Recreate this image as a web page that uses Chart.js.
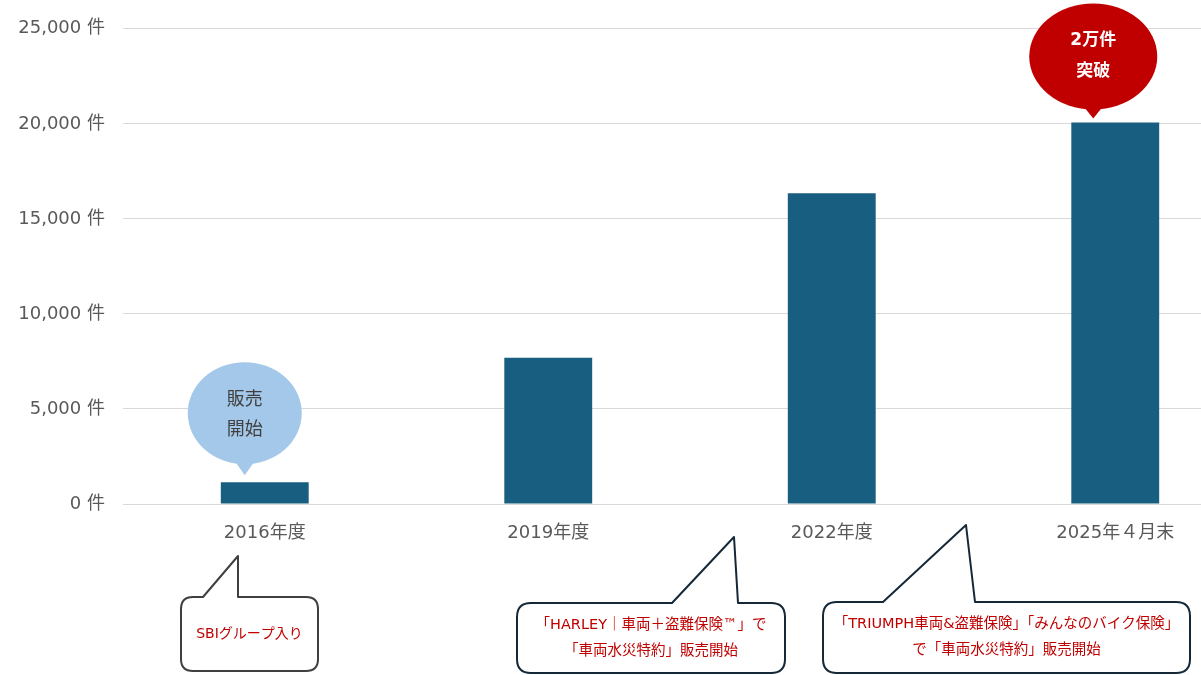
<!DOCTYPE html>
<html lang="ja">
<head>
<meta charset="utf-8">
<script src="https://cdn.jsdelivr.net/npm/chart.js@4"></script>
<style>
    html, body { margin: 0; padding: 0; background: #fff; overflow: hidden; }
    #wrap { position: relative; width: 1260px; height: 675px; }
</style>
</head>
<body>
<div id="wrap"><canvas id="chart-contracts"></canvas></div>
<script>
// 契約件数の推移
const categories = ['2016年度', '2019年度', '2022年度', '2025年４月末'];
const contracts = [1150, 7700, 16350, 20070];
const yTickStep = 5000;
const yMax = 25000;

const bubbleTexts = [['販売', '開始'], ['2万件', '突破']];
const calloutTexts = [
    ['SBIグループ入り'],
    ['「HARLEY｜車両＋盗難保険™」で', '「車両水災特約」販売開始'],
    ['「TRIUMPH車両&盗難保険」「みんなのバイク保険」', 'で「車両水災特約」販売開始'],
];

const FONT = '"DejaVu Sans", "Noto Sans CJK JP", sans-serif';
const BAR = '#185e80';
const RED = '#c00000';

// box with a tail going up to a tip
function calloutPath(ctx, c) {
    const { x, y, w, h, r, tailL, tailR, tipX, tipY } = c;
    ctx.beginPath();
    ctx.moveTo(x + r, y);
    ctx.lineTo(tailL, y);
    ctx.lineTo(tipX, tipY);
    ctx.lineTo(tailR, y);
    ctx.lineTo(x + w - r, y);
    ctx.quadraticCurveTo(x + w, y, x + w, y + r);
    ctx.lineTo(x + w, y + h - r);
    ctx.quadraticCurveTo(x + w, y + h, x + w - r, y + h);
    ctx.lineTo(x + r, y + h);
    ctx.quadraticCurveTo(x, y + h, x, y + h - r);
    ctx.lineTo(x, y + r);
    ctx.quadraticCurveTo(x, y, x + r, y);
    ctx.closePath();
}

function drawBubble(ctx, cx, cy, rx, ry, tipY, fill) {
    ctx.save();
    ctx.fillStyle = fill;
    ctx.beginPath();
    ctx.ellipse(cx, cy, rx, ry, 0, 0, Math.PI * 2);
    ctx.fill();
    ctx.beginPath();
    ctx.moveTo(cx - 12, cy + ry - 6);
    ctx.lineTo(cx, tipY);
    ctx.lineTo(cx + 12, cy + ry - 6);
    ctx.closePath();
    ctx.fill();
    ctx.restore();
}

const annotations = {
    id: 'annotations',
    afterDraw(chart) {
        const ctx = chart.ctx;
        const xs = chart.scales.x;
        const ys = chart.scales.y;

        // 販売開始 bubble over the first bar
        const b0x = xs.getPixelForValue(0) - 20;
        const b0top = ys.getPixelForValue(contracts[0]);
        drawBubble(ctx, b0x, b0top - 69, 57, 51, b0top - 7, '#a4c8e9');
        // 2万件突破 bubble over the last bar
        const b3x = xs.getPixelForValue(3) - 22;
        const b3top = ys.getPixelForValue(contracts[3]);
        drawBubble(ctx, b3x, b3top - 66, 64, 53, b3top - 4, RED);

        ctx.save();
        ctx.textAlign = 'center';
        ctx.textBaseline = 'middle';
        ctx.font = '18px ' + FONT;
        ctx.fillStyle = '#404040';
        bubbleTexts[0].forEach((t, i) => ctx.fillText(t, b0x, b0top - 82 + i * 30));
        ctx.font = 'bold 17px ' + FONT;
        ctx.fillStyle = '#ffffff';
        bubbleTexts[1].forEach((t, i) => ctx.fillText(t, b3x, b3top - 82 + i * 31));
        ctx.restore();

        // callouts under the axis
        const boxes = [
            { x: 181, y: 597, w: 137, h: 74, r: 12, tailL: 203, tailR: 238, tipX: 238, tipY: 556, stroke: '#3f3f3f', lh: 26, size: 14 },
            { x: 517, y: 603, w: 268, h: 70, r: 14, tailL: 672, tailR: 738, tipX: 734, tipY: 537, stroke: '#142838', lh: 26, size: 14.5 },
            { x: 823, y: 602, w: 367, h: 71, r: 14, tailL: 883, tailR: 975, tipX: 966, tipY: 525, stroke: '#142838', lh: 26, size: 14.5 },
        ];
        boxes.forEach((c, i) => {
            ctx.save();
            calloutPath(ctx, c);
            ctx.fillStyle = '#ffffff';
            ctx.fill();
            ctx.lineWidth = 2;
            ctx.lineJoin = 'round';
            ctx.strokeStyle = c.stroke;
            ctx.stroke();
            ctx.fillStyle = RED;
            ctx.font = c.size + 'px ' + FONT;
            ctx.textAlign = 'center';
            ctx.textBaseline = 'middle';
            const lines = calloutTexts[i];
            const cx = c.x + c.w / 2;
            const cy = c.y + c.h / 2;
            const start = cy - (lines.length - 1) * c.lh / 2;
            lines.forEach((t, j) => ctx.fillText(t, cx, start + j * c.lh));
            ctx.restore();
        });
    }
};

new Chart(document.getElementById('chart-contracts'), {
    type: 'bar',
    data: {
        labels: categories,
        datasets: [{
            label: '契約件数',
            data: contracts,
            backgroundColor: BAR,
            barPercentage: 0.62,
            categoryPercentage: 0.5,
        }],
    },
    options: {
        responsive: true,
        maintainAspectRatio: false,
        animation: false,
        layout: { padding: { top: 27, right: 3, left: 0, bottom: 0 } },
        scales: {
            x: {
                grid: { display: false, drawTicks: false },
                border: { display: false },
                ticks: { color: '#595959', font: { family: FONT, size: 18 }, padding: 19, maxRotation: 0 },
                afterFit: (s) => { s.height = 171; },
            },
            y: {
                min: 0,
                max: yMax,
                ticks: {
                    stepSize: yTickStep,
                    color: '#595959',
                    font: { family: FONT, size: 18 },
                    padding: 18,
                    callback: (v) => v.toLocaleString('en-US') + ' 件',
                },
                grid: { color: '#d9d9d9', drawTicks: false },
                border: { display: false },
                afterFit: (s) => { s.width = 123; },
            },
        },
        plugins: {
            legend: { display: false },
            tooltip: { enabled: false },
        },
    },
    plugins: [annotations],
});
</script>
</body>
</html>
